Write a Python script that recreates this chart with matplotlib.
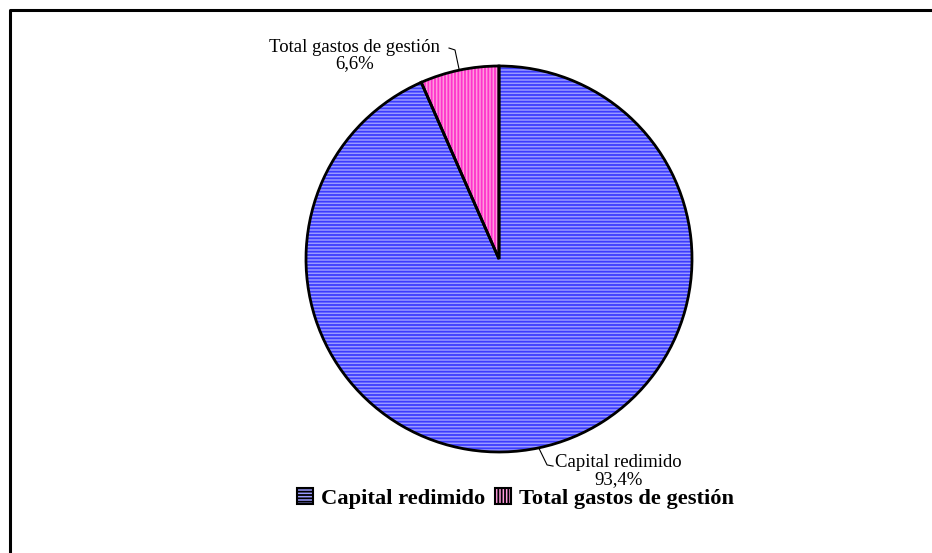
import numpy as np
import matplotlib
matplotlib.use("Agg")
import matplotlib.pyplot as plt
from matplotlib.lines import Line2D
from matplotlib.patches import Patch

labels = ["Capital redimido", "Total gastos de gestión"]
values = [93.4, 6.6]
value_labels = ["93,4%", "6,6%"]
base_colors = ["#9a9aff", "#ff99dd"]
stripe_colors = ["#3c3cff", "#ff33cc"]
hatches = ["-----", "|||||"]

plt.rcParams['font.family'] = ['Liberation Serif', 'DejaVu Serif']
plt.rcParams['hatch.linewidth'] = 1.3

fig = plt.figure(figsize=(9.32, 5.53), dpi=100)
ax = fig.add_axes([306/932, (553-452)/553, 386/932, 386/553])
ax.set_xlim(-1, 1)
ax.set_ylim(-1, 1)
ax.set_aspect('equal')
ax.axis('off')

# hatch layer
w1, _ = ax.pie(values, startangle=90, counterclock=False, radius=1,
               colors=base_colors,
               wedgeprops=dict(linewidth=0), frame=False)
for w, h, sc in zip(w1, hatches, stripe_colors):
    w.set_hatch(h)
    w.set_edgecolor(sc)
    w.set_linewidth(0)
# outline layer
w2, _ = ax.pie(values, startangle=90, counterclock=False, radius=1,
               colors=['none', 'none'],
               wedgeprops=dict(linewidth=2.0, edgecolor='black', fill=False), frame=False)
ax.set_xlim(-1, 1)
ax.set_ylim(-1, 1)

# mid angles of wedges
start = 90.0
total = sum(values)
angles = []
for v in values:
    span = 360.0 * v / total
    angles.append(np.deg2rad(start - span / 2))
    start -= span

# Capital redimido (bottom)
a = angles[0]
p0 = (np.cos(a), np.sin(a))
ax.plot([p0[0], 0.249, 0.280], [p0[1], -1.067, -1.073], color='black', lw=0.8, clip_on=False)
ax.text(0.617, -1.099, labels[0] + "\n" + value_labels[0], ha='center', va='center',
        fontsize=13.5, linespacing=0.95, clip_on=False)

# Total gastos (top)
a = angles[1]
p1 = (np.cos(a), np.sin(a))
ax.plot([p1[0], -0.228, -0.259], [p1[1], 1.083, 1.093], color='black', lw=0.8, clip_on=False)
ax.text(-0.749, 1.055, labels[1] + "\n" + value_labels[1], ha='center', va='center',
        fontsize=13.5, linespacing=0.95, clip_on=False)

# legend
handles = [Patch(facecolor=bc, edgecolor='black', hatch=h, linewidth=1.5)
           for bc, h in zip(base_colors, hatches)]
leg = fig.legend(handles, labels, loc='center', bbox_to_anchor=(0.553, 0.099), ncol=2,
                 frameon=False, handlelength=0.7, handleheight=0.7, handletextpad=0.35,
                 columnspacing=0.45, prop={'weight': 'bold', 'size': 16.2})

# frame
fig.add_artist(Line2D([9.5/932, 9.5/932, 1.0], [0.0, 1 - 9.5/553, 1 - 9.5/553],
                      transform=fig.transFigure, color='black', lw=2.2))

fig.savefig("out.png", dpi=100)
